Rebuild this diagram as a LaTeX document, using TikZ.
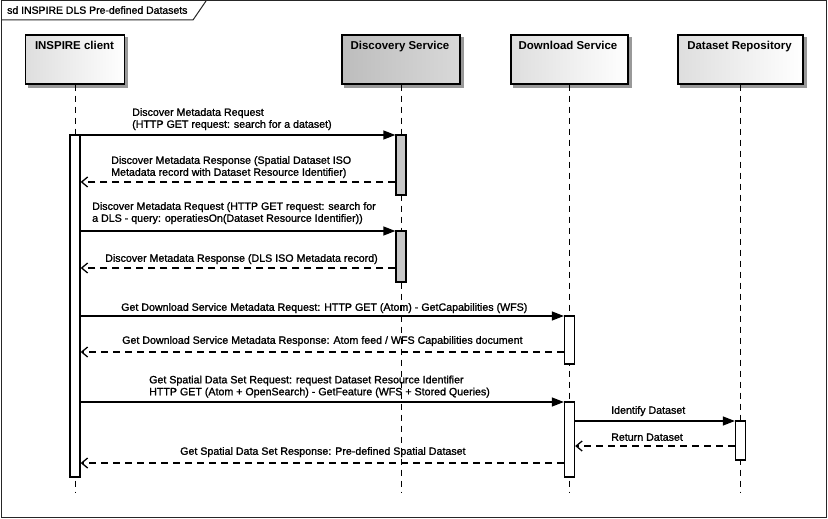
\documentclass[tikz,border=0pt]{standalone}
\usepackage{fontspec}
\setmainfont{Liberation Sans}
\newfontface\lblfont{Liberation Sans}[FakeBold=1.3]
\usetikzlibrary{arrows.meta,backgrounds}
\begin{document}
\begin{tikzpicture}[x=1bp,y=-1bp,
  lbl/.style={font=\lblfont\fontsize{10.7}{12}\selectfont, align=left, inner sep=0pt, text depth=0pt, anchor=south west},
  headbox/.style={draw=black, line width=1.3bp, minimum height=49bp, inner sep=0pt, left color=black!13, right color=white},
  headgray/.style={headbox, left color=black!26, right color=black!15},
  headtxt/.style={font=\bfseries\fontsize{11.5}{13}\selectfont, inner sep=0pt, anchor=base},
  act/.style={draw=black, line width=1.3bp, fill=white, minimum width=10bp, inner sep=0pt},
  actgray/.style={act, fill=black!22},
  life/.style={line width=0.8bp, dash pattern=on 6bp off 5bp},
  req/.style={line width=1.3bp, -{Triangle[length=12bp,width=9bp]}},
  ret/.style={line width=1.3bp, dash pattern=on 7bp off 5bp, -{Straight Barb[length=6bp,width=10bp]}},
  frm/.style={line width=1bp, draw=black!85}
]
\useasboundingbox (0,0) rectangle (828,519);
% frame
\draw[frm] (1,1) rectangle (826,517);
\draw[frm] (1,20) -- (193,20) -- (206,1);
\node[lbl, font=\lblfont\fontsize{10.5}{12}\selectfont] (title) at (7,14) {sd INSPIRE DLS Pre-defined Datasets};

% lifeline heads
\node[headbox, minimum width=99bp] (hC) at (75,59.5) {};
\node[headgray, minimum width=118bp] (hD) at (401,59.5) {};
\node[headbox, minimum width=117bp] (hW) at (569.5,59.5) {};
\node[headbox, minimum width=125bp] (hR) at (740.5,59.5) {};
\begin{scope}[on background layer]
  \foreach \n in {hC,hD,hW,hR}
    \fill[black!40] ([xshift=3bp,yshift=-3bp]\n.south west) rectangle ([xshift=3bp,yshift=-3bp]\n.north east);
\end{scope}
\node[headtxt] (tC) at (74.5,50) {INSPIRE client};
\node[headtxt] (tD) at (400,50) {Discovery Service};
\node[headtxt] (tW) at (568,50) {Download Service};
\node[headtxt] (tR) at (739.5,50) {Dataset Repository};

% lifelines
\foreach \n in {C,D,W,R} {
  \coordinate (e\n) at (h\n.south |- 0,493);
  \draw[life] (h\n.south) -- (e\n);
}

% activations
\node[act, minimum height=342bp] (aC) at (75,306) {};
\node[actgray, minimum height=60bp] (aD1) at (401,165) {};
\node[actgray, minimum height=51bp] (aD2) at (401,256.5) {};
\node[act, minimum height=48bp] (aW1) at (569.5,340) {};
\node[act, minimum height=75bp] (aW2) at (569.5,439.5) {};
\node[act, minimum height=39bp] (aR) at (740.5,440.5) {};

% messages
\draw[req] (aC.east |- 0,135) -- (aD1.west |- 0,135);
\node[lbl] (l1) at (132,128) {Discover Metadata Request\\(HTTP GET request: search for a dataset)};

\draw[ret] (aD1.west |- 0,182) -- (aC.east |- 0,182);
\node[lbl] (l2) at (111,176) {Discover Metadata Response (Spatial Dataset ISO\\Metadata record with Dataset Resource Identifier)};

\draw[req] (aC.east |- 0,231) -- (aD2.west |- 0,231);
\node[lbl] (l3) at (92,222) {Discover Metadata Request (HTTP GET request: search for\\a DLS - query: operatiesOn(Dataset Resource Identifier))};

\draw[ret] (aD2.west |- 0,268) -- (aC.east |- 0,268);
\node[lbl] (l4) at (105,262) {Discover Metadata Response (DLS ISO Metadata record)};

\draw[req] (aC.east |- 0,316) -- (aW1.west |- 0,316);
\node[lbl] (l5) at (121,311) {Get Download Service Metadata Request: HTTP GET (Atom) - GetCapabilities (WFS)};

\draw[ret] (aW1.west |- 0,352) -- (aC.east |- 0,352);
\node[lbl] (l6) at (122,344) {Get Download Service Metadata Response: Atom feed / WFS Capabilities document};

\draw[req] (aC.east |- 0,402) -- (aW2.west |- 0,402);
\node[lbl] (l7) at (149,395.5) {Get Spatial Data Set Request: request Dataset Resource Identifier\\HTTP GET (Atom + OpenSearch) - GetFeature (WFS + Stored Queries)};

\draw[req] (aW2.east |- 0,421) -- (aR.west |- 0,421);
\node[lbl] (l8) at (611,414) {Identify Dataset};

\draw[ret] (aR.west |- 0,446) -- (aW2.east |- 0,446);
\node[lbl] (l9) at (611,441) {Return Dataset};

\draw[ret] (aW2.west |- 0,463) -- (aC.east |- 0,463);
\node[lbl] (l10) at (180,455) {Get Spatial Data Set Response: Pre-defined Spatial Dataset};
\end{tikzpicture}
\end{document}
